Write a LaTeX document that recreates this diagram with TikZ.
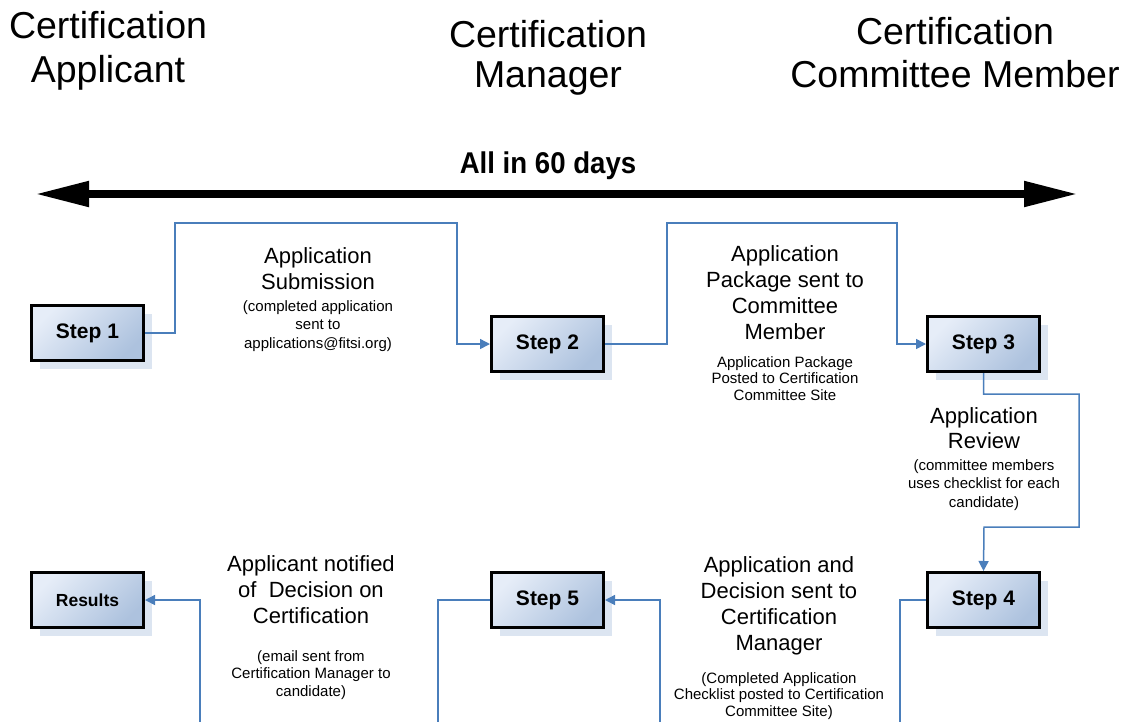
\documentclass[tikz,border=0pt]{standalone}
\usepackage{fontspec}
\setmainfont{Liberation Sans}
\usetikzlibrary{arrows.meta,shadows}
\definecolor{connblue}{HTML}{4A7EBB}
\definecolor{boxlight}{HTML}{E6EDF8}
\definecolor{boxdark}{HTML}{ADC2DE}
\definecolor{shadowblue}{HTML}{DCE5F1}
\tikzset{
  stepbox/.style={draw=black, line width=3pt, minimum width=112pt, minimum height=55pt,
    inner sep=0pt, top color=boxlight, bottom color=boxdark, shading angle=45,
    drop shadow={shadow xshift=8pt, shadow yshift=-8pt, fill=shadowblue, opacity=1},
    font=\fontsize{21pt}{25pt}\selectfont\bfseries},
  conn/.style={draw=connblue, line width=1.5pt, -{Triangle[length=10pt,width=10pt]}},
  bigtxt/.style={align=center, anchor=base, inner sep=0pt},
  headtxt/.style={align=center, anchor=base, inner sep=0pt},
}
\begin{document}
\begin{tikzpicture}[x=1pt,y=-1pt]
\useasboundingbox (0,0) rectangle (1125,721);
\clip (0,0) rectangle (1125,721);
\fill[white] (0,0) rectangle (1125,721);

% headings (anchor = baseline of the last line)
\node[headtxt, font=\fontsize{37.5pt}{44pt}\selectfont] (h1) at (108,82) {Certification\\Applicant};
\node[headtxt, font=\fontsize{37.5pt}{40pt}\selectfont] (h2) at (548,87) {Certification\\Manager};
\node[headtxt, font=\fontsize{37.5pt}{43pt}\selectfont] (h3) at (955,87) {Certification\\Committee Member};

% 60 days arrow
\node[headtxt, font=\fontsize{30pt}{34pt}\selectfont\bfseries] (days) at (548,173) {\scalebox{0.92}[1]{All in 60 days}};
\coordinate (al) at (35,194);
\coordinate (ar) at (1078,194);
\draw[line width=8pt, {Triangle[length=54pt,width=24pt]}-{Triangle[length=54pt,width=24pt]}] (al) -- (ar);

% boxes
\node[stepbox] (s1) at (87.5,333) {Step 1};
\node[stepbox] (s2) at (547.5,344) {Step 2};
\node[stepbox] (s3) at (983.5,344) {Step 3};
\node[stepbox] (s4) at (983.5,600) {Step 4};
\node[stepbox] (s5) at (547.5,600) {Step 5};
\node[stepbox, font=\fontsize{17.5pt}{21pt}\selectfont\bfseries] (res) at (87.5,600) {Results};

% connectors
\draw[conn] (s1.east) -| (175,223) -| (457,344) -- (s2.west);
\draw[conn] (s2.east) -| (667,223) -| (897,344) -- (s3.west);
\draw[conn] (s3.south) |- (1079,394) |- (984,527) -- (s4.north);
\draw[conn] (s4.west) -| (900,760) -| (660,600) -- (s5.east);
\draw[conn] (s5.west) -| (438,760) -| (200,600) -- (res.east);

% labels (anchor = baseline of the last line)
\node[bigtxt, font=\fontsize{22pt}{26pt}\selectfont] (la) at (318,289) {Application\\Submission};
\node[bigtxt, font=\fontsize{15pt}{18.5pt}\selectfont] (lan) at (318,348) {(completed application\\sent to\\applications@fitsi.org)};

\node[bigtxt, font=\fontsize{22pt}{26pt}\selectfont] (lb) at (785,339) {Application\\Package sent to\\Committee\\Member};
\node[bigtxt, font=\fontsize{15pt}{16.5pt}\selectfont] (lbn) at (785,400) {Application Package\\Posted to Certification\\Committee Site};

\node[bigtxt, font=\fontsize{22pt}{25pt}\selectfont] (lc) at (984,448) {Application\\Review};
\node[bigtxt, font=\fontsize{15pt}{18.5pt}\selectfont] (lcn) at (984,507) {(committee members\\uses checklist for each\\candidate)};

\node[bigtxt, font=\fontsize{22pt}{26pt}\selectfont] (ld) at (311,623) {Applicant notified\\of\ \ Decision on\\Certification};
\node[bigtxt, font=\fontsize{15pt}{17.5pt}\selectfont] (ldn) at (311,696) {(email sent from\\Certification Manager to\\candidate)};

\node[bigtxt, font=\fontsize{22pt}{26pt}\selectfont] (le) at (779,650) {Application and\\Decision sent to\\Certification\\Manager};
\node[bigtxt, font=\fontsize{15pt}{16.5pt}\selectfont] (len) at (779,716) {(Completed Application\\Checklist posted to Certification\\Committee Site)};
\end{tikzpicture}
\end{document}
